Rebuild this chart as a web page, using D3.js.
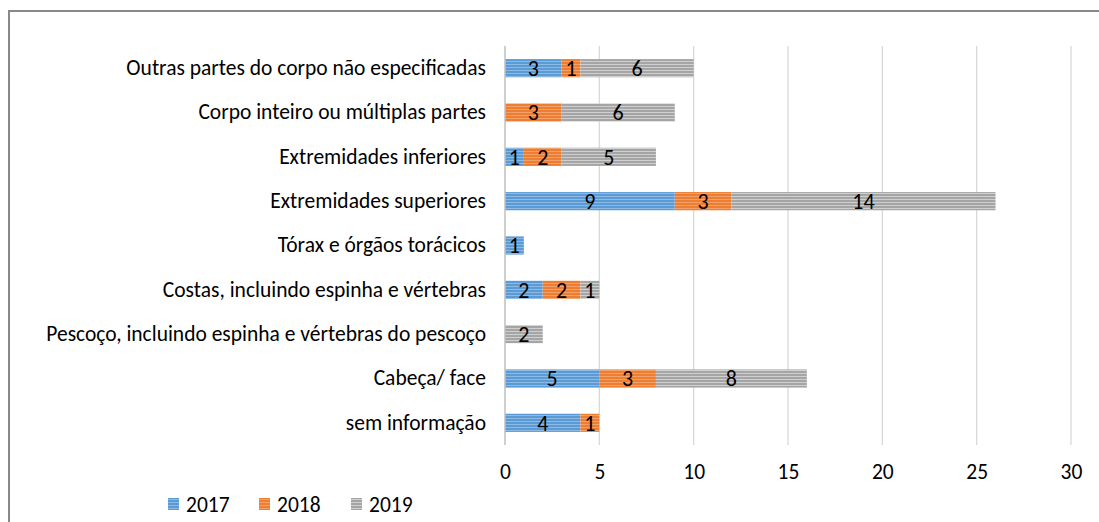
<!DOCTYPE html>
<html><head><meta charset="utf-8">
<script src="https://cdn.jsdelivr.net/npm/d3@7"></script>
<style>body{margin:0;background:#fff;} svg{display:block;}</style>
</head><body>
<svg id="c" width="1099" height="522"></svg>
<script>
const categories = ["Outras partes do corpo não especificadas","Corpo inteiro ou múltiplas partes","Extremidades inferiores","Extremidades superiores","Tórax e órgãos torácicos","Costas, incluindo espinha e vértebras","Pescoço, incluindo espinha e vértebras do pescoço","Cabeça/ face","sem informação"];
const seriesNames = ["2017","2018","2019"];
const v2017 = [3,0,1,9,1,2,0,5,4];
const v2018 = [1,3,2,3,0,2,0,3,1];
const v2019 = [6,6,5,14,0,1,2,8,0];
const xTicks = [0,5,10,15,20,25,30];
const colors = ["#5B9BD5","#ED7D31","#A5A5A5"];
const light = ["#8DB9E2","#F3A06A","#CFCFCF"];

const svg = d3.select("#c");
const font = "Calibri, Carlito, Lato, 'Open Sans', sans-serif";
const fs = 21.5;
const defs = svg.append("defs");
colors.forEach((c,i)=>{
  const p = defs.append("pattern").attr("id","p"+i).attr("patternUnits","userSpaceOnUse").attr("width",4).attr("height",3);
  p.append("rect").attr("width",4).attr("height",3).attr("fill",c);
  p.append("rect").attr("y",1).attr("width",4).attr("height",1).attr("fill",light[i]);
});

svg.append("path").attr("d","M9,530 V11 H1110").attr("fill","none").attr("stroke","#888").attr("stroke-width",2);

const x = d3.scaleLinear().domain([0,30]).range([505,1071]);
const y = d3.scaleBand().domain(categories).range([46,445]).paddingInner(0.59).paddingOuter(0.295);

svg.append("g").selectAll("line").data(xTicks.slice(1)).join("line")
  .attr("x1",d=>x(d)).attr("x2",d=>x(d)).attr("y1",46).attr("y2",445)
  .attr("stroke","#D9D9D9").attr("stroke-width",1.3);

const data = categories.map((c,i)=>({cat:c, vals:[v2017[i],v2018[i],v2019[i]]}));
const stack = d3.stack().keys([0,1,2]).value((d,k)=>d.vals[k])(data);

stack.forEach((layer,k)=>{
  layer.forEach(seg=>{
    const v = seg[1]-seg[0];
    if(v<=0) return;
    const cat = seg.data.cat;
    svg.append("rect").attr("x",x(seg[0])).attr("width",x(seg[1])-x(seg[0]))
      .attr("y",y(cat)).attr("height",y.bandwidth()).attr("fill","url(#p"+k+")");
  });
});
stack.forEach((layer,k)=>{
  layer.forEach(seg=>{
    const v = seg[1]-seg[0];
    if(v<=0) return;
    const cat = seg.data.cat;
    svg.append("text").attr("x",(x(seg[0])+x(seg[1]))/2).attr("y",y(cat)+y.bandwidth()/2)
      .attr("dy","0.36em").attr("text-anchor","middle").attr("font-family",font).attr("font-size",22)
      .attr("fill","#000").text(v);
  });
});

svg.append("line").attr("x1",505).attr("x2",505).attr("y1",46).attr("y2",445).attr("stroke","#BFBFBF").attr("stroke-width",1.5);

const xa = svg.append("g").attr("transform","translate(0,445)").call(d3.axisBottom(x).tickValues(xTicks).tickSize(0).tickPadding(19));
xa.select(".domain").remove();
xa.selectAll("text").attr("font-family",font).attr("font-size",fs).attr("fill","#000");

const ya = svg.append("g").attr("transform","translate(505,0)").call(d3.axisLeft(y).tickSize(0).tickPadding(19));
ya.select(".domain").remove();
ya.selectAll("text").attr("font-family",font).attr("font-size",fs).attr("fill","#000");

const legX = [168,259,351];
seriesNames.forEach((s,i)=>{
  svg.append("rect").attr("x",legX[i]).attr("y",498).attr("width",11).attr("height",12).attr("fill","url(#p"+i+")");
  svg.append("text").attr("x",legX[i]+18).attr("y",504).attr("dy","0.36em").attr("font-family",font).attr("font-size",fs).attr("fill","#000").text(s);
});
</script>
</body></html>
